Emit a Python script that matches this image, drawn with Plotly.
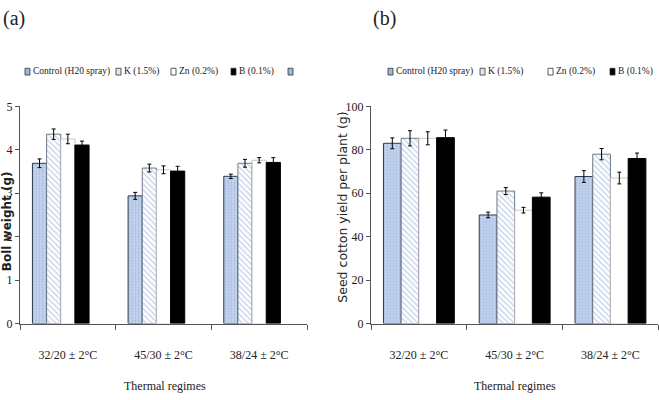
import plotly.graph_objects as go

W, H = 659, 400

categories = ["32/20 ± 2°C", "45/30 ± 2°C", "38/24 ± 2°C"]
series_names = ["Control (H20 spray)", "K (1.5%)", "Zn (0.2%)", "B (0.1%)"]

boll_control = [3.69, 2.94, 3.39]
boll_k = [4.36, 3.58, 3.69]
boll_zn = [4.25, 3.54, 3.76]
boll_b = [4.11, 3.51, 3.71]
boll_extra = [None, None, None]
boll_control_err = [0.10, 0.08, 0.05]
boll_k_err = [0.12, 0.09, 0.09]
boll_zn_err = [0.11, 0.09, 0.06]
boll_b_err = [0.09, 0.11, 0.11]

yield_control = [83.0, 50.0, 67.7]
yield_k = [85.3, 61.0, 78.0]
yield_zn = [85.3, 52.2, 67.0]
yield_b = [85.6, 58.2, 76.0]
yield_control_err = [2.5, 1.3, 2.7]
yield_k_err = [3.5, 1.6, 2.6]
yield_zn_err = [3.0, 1.3, 2.7]
yield_b_err = [3.5, 2.0, 2.5]

boll_ticks = [0, 1, 2, 3, 4, 5]
yield_ticks = [0, 20, 40, 60, 80, 100]

SERIF = "Liberation Serif"
TXT = "#222222"

styles = [
    dict(color="#c3d3ec", line=dict(color="#2c3a55", width=1),
         pattern=dict(shape=".", fgcolor="#8aa6d4", bgcolor="#c8d7ef", size=3, solidity=0.45)),
    dict(color="white", line=dict(color="#6f7a8a", width=1),
         pattern=dict(shape="\\", fgcolor="#8ea8d2", bgcolor="white", size=4, solidity=0.35)),
    dict(color="white", line=dict(color="#b0b0b0", width=0.7)),
    dict(color="black", line=dict(color="black", width=1)),
]
legend_icon = ["#9fb6dc", "#dfe7f3", "white", "black", "#9fb6dc"]

fig = go.Figure()

left_vals = [boll_control, boll_k, boll_zn, boll_b, boll_extra]
left_errs = [boll_control_err, boll_k_err, boll_zn_err, boll_b_err, [None] * 3]
for i, (v, e) in enumerate(zip(left_vals, left_errs)):
    st = styles[i] if i < 4 else dict(color="white")
    fig.add_trace(go.Bar(
        x=categories, y=v, xaxis="x", yaxis="y", marker=st, showlegend=False,
        error_y=dict(type="data", array=e, color="black", thickness=1, width=2, visible=i < 4),
    ))

right_vals = [yield_control, yield_k, yield_zn, yield_b]
right_errs = [yield_control_err, yield_k_err, yield_zn_err, yield_b_err]
for i, (v, e) in enumerate(zip(right_vals, right_errs)):
    fig.add_trace(go.Bar(
        x=categories, y=v, xaxis="x2", yaxis="y2", marker=styles[i], showlegend=False,
        error_y=dict(type="data", array=e, color="black", thickness=1, width=2),
    ))

ydom = [1 - 328 / H, 1 - 103 / H]
axis_common = dict(showline=True, linecolor="#555555", linewidth=1, ticks="outside",
                   tickcolor="#555555", showgrid=False, zeroline=False,
                   tickfont=dict(family=SERIF, size=12, color=TXT))

fig.update_layout(
    width=W, height=H, margin=dict(l=0, r=0, t=0, b=0),
    paper_bgcolor="white", plot_bgcolor="white",
    barmode="group", bargap=0.26, bargroupgap=0,
    xaxis=dict(domain=[20 / W, 307 / W], anchor="y", type="category",
               tickson="boundaries", ticklen=5, ticklabelstandoff=20,
               **axis_common),
    yaxis=dict(domain=ydom, anchor="x", range=[0, 5], tickvals=boll_ticks, ticklen=4,
               **axis_common),
    xaxis2=dict(domain=[371 / W, 0.999], anchor="y2", type="category",
                tickson="boundaries", ticklen=5, ticklabelstandoff=20,
                **axis_common),
    yaxis2=dict(domain=ydom, anchor="x2", range=[0, 100], tickvals=yield_ticks, ticklen=4,
                **axis_common),
)


def label(text, px, py, size, xanchor="center", angle=0, family=SERIF):
    fig.add_annotation(text=text, x=px / W, y=1 - py / H, xref="paper", yref="paper",
                       xanchor=xanchor, yanchor="middle", showarrow=False, textangle=angle,
                       font=dict(family=family, size=size, color=TXT))


label("Thermal regimes", 165, 393, 12)
label("Thermal regimes", 515, 393, 12)
label("<b>Boll weight (g)</b>", 7, 222, 12, angle=-90, family="DejaVu Sans")
label("Seed cotton yield per plant (g)", 343, 208, 12.5, angle=-90, family="DejaVu Sans")
label("(a)", 1, 12, 20, xanchor="left")
label("(b)", 371, 12, 20, xanchor="left")

# legends
legend_a_x = [25, 116, 171, 231, 288]
legend_b_x = [388, 480, 548, 610]
legend_y = 67
for xs, names in ((legend_a_x, series_names + [""]), (legend_b_x, series_names)):
    for j, (px, name) in enumerate(zip(xs, names)):
        fig.add_shape(type="rect", xref="paper", yref="paper",
                      x0=px / W, x1=(px + 5) / W, y0=1 - (legend_y + 3.5) / H, y1=1 - (legend_y - 3.5) / H,
                      fillcolor=legend_icon[j], line=dict(color="#333333", width=0.8))
        if name:
            label(name, px + 6, legend_y, 9.5, xanchor="left")

fig.write_html("out.html", config={"displayModeBar": False},
               post_script="document.body.style.margin='0';document.body.style.overflow='hidden';")
